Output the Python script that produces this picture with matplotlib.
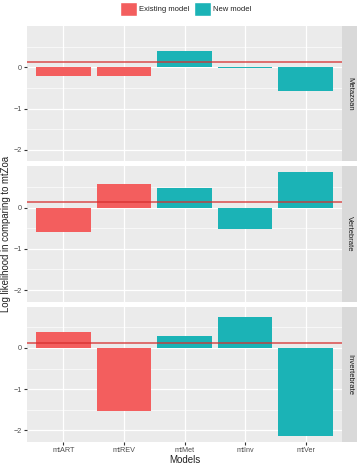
import numpy as np
import matplotlib
matplotlib.use('Agg')
import matplotlib.pyplot as plt
from matplotlib.patches import Patch

plt.rcParams['font.family'] = ['Liberation Sans', 'DejaVu Sans']

models = ['mtART', 'mtREV', 'mtMet', 'mtInv', 'mtVer']
groups = ['Existing model', 'Existing model', 'New model', 'New model', 'New model']
panels = ['Metazoan', 'Vertebrate', 'Invertebrate']
metazoan = [-0.22, -0.22, 0.40, -0.03, -0.57]
vertebrate = [-0.58, 0.58, 0.47, -0.53, 0.86]
invertebrate = [0.39, -1.52, 0.30, 0.76, -2.13]
ref_line = [0.12, 0.13, 0.12]

cols = {'Existing model': '#F35E5E', 'New model': '#1BB3B6'}
values = [metazoan, vertebrate, invertebrate]

W, H = 358, 465
fig = plt.figure(figsize=(W / 100, H / 100), dpi=100)

left, right = 27, 342
top, bot, gap = 26, 442, 5
ph = (bot - top - 2 * gap) / 3

x = np.arange(len(models))
for i, name in enumerate(panels):
    y0 = top + i * (ph + gap)
    ax = fig.add_axes([left / W, 1 - (y0 + ph) / H, (right - left) / W, ph / H])
    ax.set_facecolor('#EBEBEB')
    ax.bar(x, values[i], width=0.9, color=[cols[g] for g in groups],
           edgecolor='none', zorder=3)
    ax.axhline(ref_line[i], color='#D63030', lw=1.1, alpha=0.85, zorder=4)
    ax.set_xlim(-0.6, 4.6)
    ax.set_ylim(-2.28, 1.0)
    ax.set_yticks([-2, -1, 0])
    ax.set_yticks([-1.5, -0.5, 0.5], minor=True)
    ax.set_xticks(x)
    ax.grid(True, which='major', color='white', lw=0.9, zorder=0)
    ax.grid(True, which='minor', axis='y', color='white', lw=0.45, zorder=0)
    for s in ax.spines.values():
        s.set_visible(False)
    ax.tick_params(axis='both', which='major', length=2, color='#333333',
                   labelsize=5.2, labelcolor='#4D4D4D', pad=1.5)
    ax.tick_params(axis='y', which='minor', length=0)
    if i < 2:
        ax.set_xticklabels([])
        ax.tick_params(axis='x', length=0)
    else:
        ax.set_xticklabels(models)

    sax = fig.add_axes([right / W, 1 - (y0 + ph) / H, 15 / W, ph / H])
    sax.set_facecolor('#D9D9D9')
    sax.set_xticks([])
    sax.set_yticks([])
    for s in sax.spines.values():
        s.set_visible(False)
    sax.text(0.5, 0.5, name, rotation=-90, ha='center', va='center',
             fontsize=5.5, color='#1A1A1A', transform=sax.transAxes)

fig.text(6 / W, 1 - 234 / H, 'Log likelihood in comparing to mtZoa', rotation=90,
         ha='center', va='center', fontsize=6.9, color='#222222')
fig.text((left + right) / 2 / W, 1 - 460 / H, 'Models', ha='center', va='center',
         fontsize=7, color='#222222')

handles = [Patch(facecolor=cols['Existing model'], edgecolor='white', label='Existing model'),
           Patch(facecolor=cols['New model'], edgecolor='white', label='New model')]
fig.legend(handles=handles, loc='center', bbox_to_anchor=(186 / W, 1 - 9 / H), ncol=2,
           frameon=False, fontsize=5.5, handlelength=2.2, handleheight=2.3,
           handletextpad=0.3, columnspacing=0.6, borderpad=0, labelcolor='#222222')

fig.savefig('out.png', dpi=100)
